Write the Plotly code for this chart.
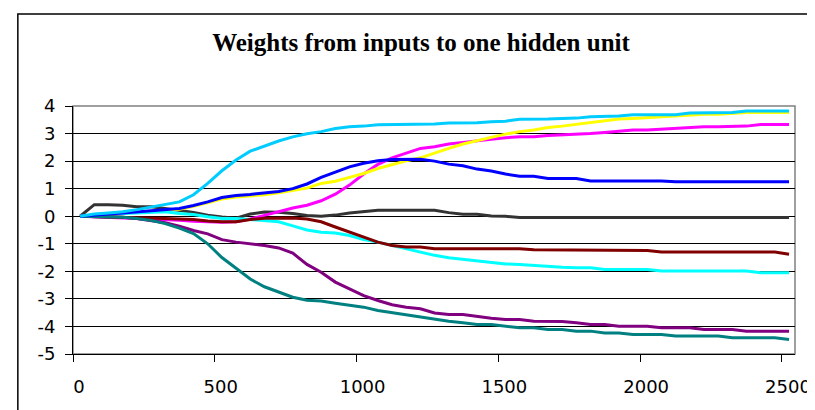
import plotly.graph_objects as go

iterations = [25, 75, 125, 175, 225, 275, 325, 375, 425, 475,
              525, 575, 625, 675, 725, 775, 825, 875, 925, 975,
              1025, 1075, 1125, 1175, 1225, 1275, 1325, 1375, 1425, 1475,
              1525, 1575, 1625, 1675, 1725, 1775, 1825, 1875, 1925, 1975,
              2025, 2075, 2125, 2175, 2225, 2275, 2325, 2375, 2425, 2475,
              2525]

w_gray = [0, 0.42, 0.42, 0.40, 0.34, 0.34, 0.28, 0.22, 0.14, 0.04,
          -0.03, -0.07, 0.08, 0.15, 0.14, 0.10, 0.03,
          0, 0.04, 0.12, 0.18, 0.22, 0.22, 0.22, 0.22, 0.22, 0.13,
          0.07, 0.07, 0.01, 0, -0.05, -0.05, -0.05,
          -0.05, -0.05, -0.05, -0.05, -0.05, -0.05, -0.05, -0.05, -0.05,
          -0.05, -0.05, -0.05, -0.05, -0.05, -0.05, -0.05, -0.05]

w_magenta = [0, -0.02, -0.03, -0.05, -0.07, -0.10, -0.12, -0.15, -0.18, -0.20,
             -0.22, -0.20, -0.10, 0.03, 0.17, 0.30, 0.40,
             0.56, 0.80, 1.13, 1.53, 1.88, 2.12, 2.30, 2.46, 2.52, 2.62,
             2.68, 2.74, 2.79, 2.85, 2.88, 2.88, 2.93,
             2.95, 2.97, 3.00, 3.04, 3.09, 3.13, 3.13, 3.16, 3.19, 3.22,
             3.25, 3.25, 3.25, 3.27, 3.33, 3.33, 3.33]

w_yellow = [0, 0.04, 0.07, 0.10, 0.14, 0.17, 0.21, 0.25, 0.36, 0.48,
            0.62, 0.70, 0.74, 0.78, 0.85, 0.94, 1.02,
            1.19, 1.27, 1.41, 1.55, 1.73, 1.88, 2.01, 2.12, 2.30, 2.46,
            2.62, 2.75, 2.86, 2.98, 3.07, 3.13, 3.22,
            3.27, 3.33, 3.41, 3.47, 3.53, 3.55, 3.58, 3.61, 3.64, 3.67,
            3.70, 3.70, 3.73, 3.76, 3.76, 3.76, 3.76]

w_cyan = [0, 0.04, 0.07, 0.10, 0.12, 0.14, 0.16, 0.10, 0.06, -0.02,
          -0.08, -0.08, -0.12, -0.15, -0.20, -0.35, -0.50,
          -0.58, -0.61, -0.70, -0.85, -0.94, -1.06, -1.18, -1.30, -1.42, -1.51,
          -1.57, -1.61, -1.67, -1.73, -1.75, -1.79, -1.81,
          -1.85, -1.87, -1.87, -1.93, -1.93, -1.93, -1.93, -1.99, -1.99, -1.99,
          -1.99, -1.99, -1.99, -1.99, -2.05, -2.05, -2.05]

w_purple = [0, -0.01, -0.02, -0.04, -0.08, -0.15, -0.24, -0.36, -0.52, -0.64,
            -0.85, -0.94, -1.00, -1.06, -1.15, -1.34, -1.75,
            -2.03, -2.39, -2.64, -2.88, -3.06, -3.21, -3.30, -3.36, -3.51, -3.57,
            -3.57, -3.64, -3.70, -3.75, -3.75, -3.81, -3.81,
            -3.82, -3.87, -3.93, -3.93, -3.99, -3.99, -3.99, -4.05, -4.05, -4.05,
            -4.11, -4.11, -4.11, -4.17, -4.17, -4.17, -4.17]

w_darkred = [0, -0.01, -0.02, -0.03, -0.05, -0.06, -0.08, -0.10, -0.12, -0.17,
             -0.20, -0.20, -0.12, -0.07, -0.06, -0.06, -0.10,
             -0.20, -0.39, -0.58, -0.76, -0.94, -1.06, -1.12, -1.12, -1.18, -1.18,
             -1.18, -1.18, -1.18, -1.18, -1.18, -1.22, -1.22,
             -1.24, -1.24, -1.24, -1.24, -1.24, -1.24, -1.24, -1.30, -1.30, -1.30,
             -1.30, -1.30, -1.30, -1.30, -1.30, -1.30, -1.38]

w_teal = [0, -0.01, -0.02, -0.04, -0.08, -0.15, -0.27, -0.43, -0.63, -1.00,
          -1.50, -1.88, -2.28, -2.56, -2.76, -2.94, -3.05,
          -3.08, -3.16, -3.24, -3.30, -3.42, -3.50, -3.57, -3.67, -3.75, -3.81,
          -3.87, -3.93, -3.93, -3.99, -4.05, -4.05, -4.11,
          -4.11, -4.17, -4.17, -4.24, -4.24, -4.29, -4.29, -4.29, -4.35, -4.35,
          -4.35, -4.35, -4.41, -4.41, -4.41, -4.41, -4.47]

w_blue = [0, 0.05, 0.08, 0.12, 0.16, 0.19, 0.24, 0.28, 0.39, 0.52,
          0.68, 0.75, 0.79, 0.84, 0.90, 1.00, 1.17,
          1.41, 1.61, 1.79, 1.92, 2.01, 2.06, 2.07, 2.07, 2.00, 1.89,
          1.83, 1.71, 1.64, 1.53, 1.45, 1.45, 1.37,
          1.37, 1.37, 1.28, 1.28, 1.28, 1.28, 1.28, 1.28, 1.25, 1.25,
          1.25, 1.25, 1.25, 1.25, 1.25, 1.25, 1.25]

w_skyblue = [0, 0.08, 0.12, 0.16, 0.24, 0.34, 0.42, 0.52, 0.78, 1.19,
             1.65, 2.04, 2.36, 2.55, 2.73, 2.88, 2.99,
             3.07, 3.18, 3.25, 3.27, 3.32, 3.33, 3.33, 3.33, 3.35, 3.38,
             3.39, 3.39, 3.43, 3.45, 3.52, 3.52, 3.53,
             3.55, 3.56, 3.61, 3.62, 3.64, 3.68, 3.68, 3.68, 3.68, 3.75,
             3.76, 3.76, 3.76, 3.82, 3.82, 3.82, 3.82]

series = [
    ("w1", w_gray, "#333333"),
    ("w2", w_magenta, "#FF00FF"),
    ("w3", w_yellow, "#FFFF00"),
    ("w4", w_cyan, "#00FFFF"),
    ("w5", w_purple, "#800080"),
    ("w6", w_darkred, "#800000"),
    ("w7", w_teal, "#008080"),
    ("w8", w_blue, "#0000FF"),
    ("w9", w_skyblue, "#00CCFF"),
]

x_tick_vals = [0, 500, 1000, 1500, 2000, 2500]
x_tick_text = ["0", "500", "1000", "1500", "2000", "2500"]
y_tick_vals = [-5, -4, -3, -2, -1, 0, 1, 2, 3, 4]
y_tick_text = ["-5", "-4", "-3", "-2", "-1", "0", "1", "2", "3", "4"]

fig = go.Figure()
for name, vals, color in series:
    fig.add_trace(go.Scatter(x=iterations, y=vals, mode="lines", name=name,
                             line=dict(color=color, width=3)))

tick_font = dict(family="DejaVu Sans", size=18, color="black")

fig.update_layout(
    width=815, height=410,
    margin=dict(l=65, r=17, t=98, b=64, pad=0),
    paper_bgcolor="white", plot_bgcolor="white",
    showlegend=False,
    title=dict(text="Weights from inputs to one hidden unit",
               x=413 / 815, xanchor="center", xref="container",
               y=1 - 34 / 410, yanchor="middle", yref="container",
               font=dict(family="Liberation Serif", size=25, color="black", weight="bold")),
    xaxis=dict(range=[0, 2546], tickmode="array", tickvals=x_tick_vals, ticktext=x_tick_text,
               ticks="outside", ticklen=7, tickcolor="black", tickwidth=1,
               showline=True, linecolor="black", linewidth=1,
               showgrid=False, zeroline=False, tickfont=tick_font,
               ticklabelshift=6, ticklabelstandoff=9),
    yaxis=dict(range=[-5, 4], tickmode="array", tickvals=y_tick_vals, ticktext=y_tick_text,
               ticks="outside", ticklen=7, tickcolor="black", tickwidth=1,
               showline=True, linecolor="black", linewidth=1,
               showgrid=True, gridcolor="black", gridwidth=1,
               zeroline=False, tickfont=tick_font, ticklabelstandoff=6),
    shapes=[
        dict(type="rect", xref="paper", yref="paper", x0=0, x1=1, y0=0, y1=1,
             line=dict(color="#808080", width=1.5), layer="below"),
        dict(type="rect", xref="paper", yref="paper",
             x0=(9 - 65) / 733, x1=(813 - 65) / 733,
             y0=(346 - 414) / 248, y1=(346 - 6) / 248,
             line=dict(color="black", width=1.5), layer="below"),
    ],
)

fig.write_html("out.html")
